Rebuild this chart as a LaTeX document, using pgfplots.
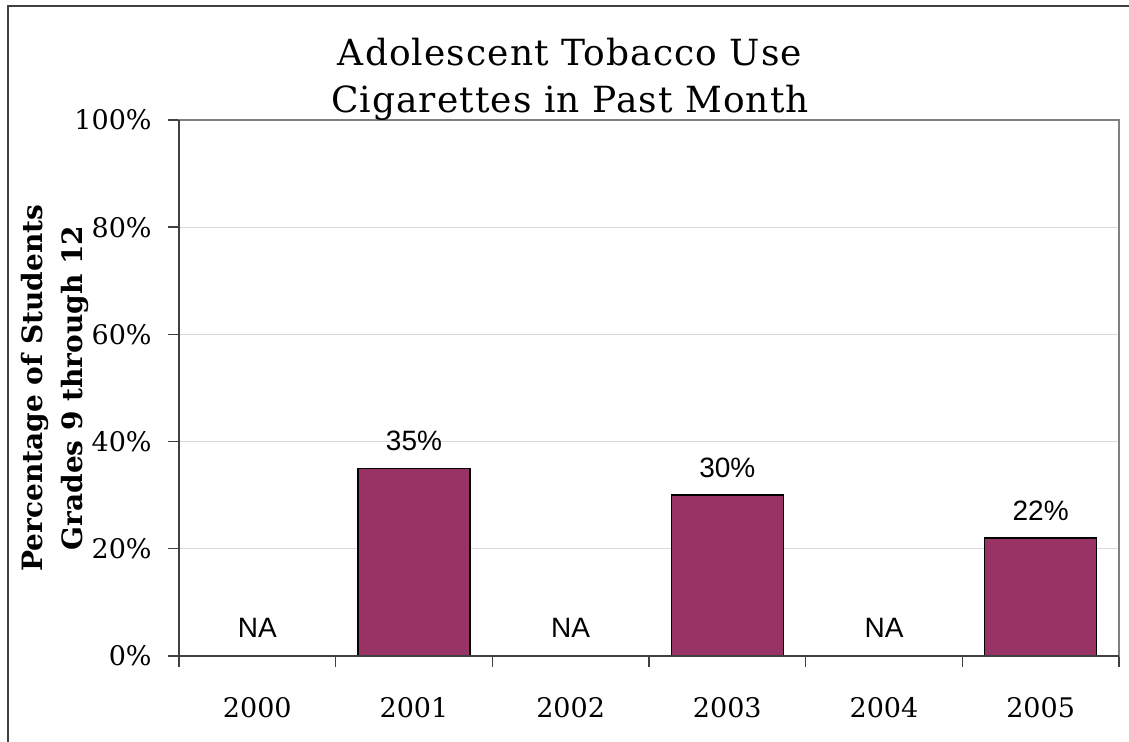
\documentclass[border=0pt]{standalone}
\usepackage{fontspec}
\setmainfont{DejaVu Serif}
\newfontfamily\sansf{Liberation Sans}
\newfontfamily\titlef[LetterSpace=3]{DejaVu Serif}
\usepackage{pgfplots}
\pgfplotsset{compat=1.18}
\definecolor{barfill}{HTML}{993366}
\definecolor{axdark}{HTML}{404040}
\definecolor{axgray}{HTML}{808080}
\definecolor{gridc}{HTML}{D9D9D9}
\begin{document}
\begin{tikzpicture}
\path[use as bounding box] (-89.5pt,-43pt) rectangle (475pt,328pt);
\draw[axdark, line width=1pt] (-85.5pt,-43pt) -- (-85.5pt,325pt) -- (475pt,325pt);
\begin{axis}[
  at={(0,0)}, anchor=south west,
  scale only axis, width=470pt, height=268pt,
  xmin=-0.5, xmax=5.5, ymin=0, ymax=100,
  xtick={-0.5,0.5,1.5,2.5,3.5,4.5,5.5},
  x tick label as interval,
  xticklabels={2000,2001,2002,2003,2004,2005},
  ytick={0,20,40,60,80,100},
  yticklabel={\pgfmathprintnumber{\tick}\%},
  xtick pos=bottom, ytick pos=left,
  tick align=outside, major tick length=5.5pt,
  tick style={axdark, line width=0.7pt},
  axis line style={axgray, line width=0.9pt},
  ymajorgrids, grid style={gridc, line width=0.6pt},
  /pgf/number format/assume math mode=true,
  ticklabel style={font=\fontsize{13.5}{16}\selectfont},
  xticklabel style={inner sep=0pt, anchor=north, yshift=-15pt},
  yticklabel style={inner sep=0pt, anchor=east, xshift=-8pt},
  clip=false,
]
\addplot[ybar, bar width=56pt, fill=barfill, draw=black, line width=0.7pt,
  nodes near coords={\pgfmathprintnumber{\pgfplotspointmeta}\%},
  every node near coord/.append style={font=\sansf\fontsize{14}{16}\selectfont, anchor=base, yshift=9pt, text=black}]
  coordinates {(1,35) (3,30) (5,22)};
\addplot[draw=none, mark=none,
  nodes near coords={NA},
  every node near coord/.append style={font=\sansf\fontsize{14}{16}\selectfont, anchor=base, yshift=9pt, text=black}]
  coordinates {(0,0) (2,0) (4,0)};
\draw[axdark, line width=0.9pt] (rel axis cs:0,1) -- (rel axis cs:0,0) -- (rel axis cs:1,0);
\end{axis}
\node[anchor=base, font=\titlef\fontsize{18}{20}\selectfont] at (195.5pt,295pt) {Adolescent Tobacco Use};
\node[anchor=base, font=\titlef\fontsize{18}{20}\selectfont] at (195.5pt,271.5pt) {Cigarettes in Past Month};
\node[rotate=90, anchor=base, font=\bfseries\fontsize{14}{16}\selectfont] at (-68pt,134pt) {Percentage of Students};
\node[rotate=90, anchor=base, font=\bfseries\fontsize{14}{16}\selectfont] at (-48.5pt,134pt) {Grades 9 through 12};
\end{tikzpicture}
\end{document}
